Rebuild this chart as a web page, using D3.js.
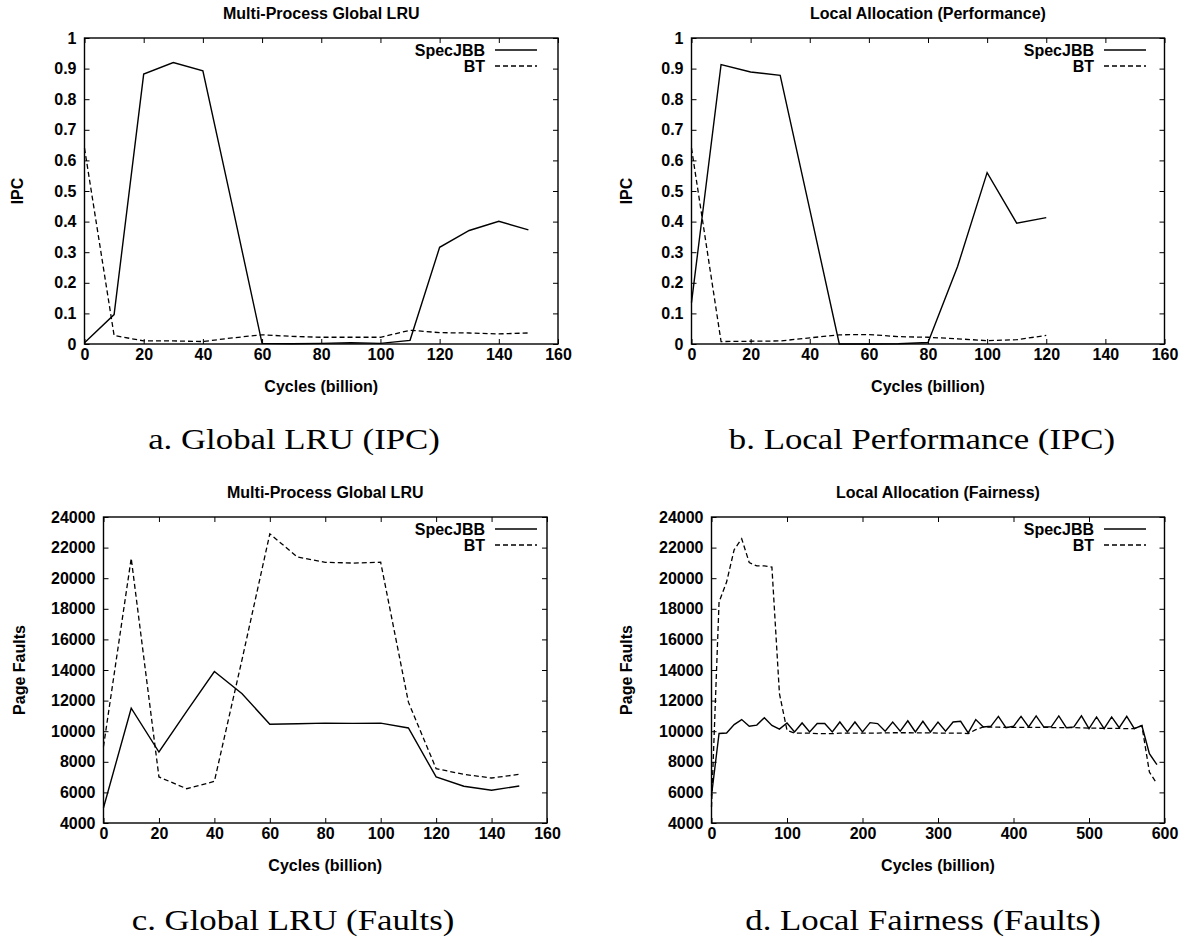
<!DOCTYPE html>
<html>
<head>
<meta charset="utf-8">
<script src="https://cdn.jsdelivr.net/npm/d3@7"></script>
<style>
  body { margin: 0; background: #fff; }
  svg { display: block; }
  .tick text { font-family: "Liberation Sans", Arial, sans-serif; font-weight: bold; font-size: 16px; fill: #000; }
  .tick line { stroke: #000; stroke-width: 1; }
  .lbl { font-family: "Liberation Sans", Arial, sans-serif; font-weight: bold; font-size: 16px; fill: #000; }
  .cap { font-family: "Liberation Serif", "Times New Roman", serif; font-size: 30px; fill: #000; }
</style>
</head>
<body>
<svg id="chart" width="1183" height="939"></svg>
<script>
// tick values
const ipcTicks = [0, 0.1, 0.2, 0.3, 0.4, 0.5, 0.6, 0.7, 0.8, 0.9, 1];
const faultTicks = [4000, 6000, 8000, 10000, 12000, 14000, 16000, 18000, 20000, 22000, 24000];
const cycleTicks160 = [0, 20, 40, 60, 80, 100, 120, 140, 160];
const cycleTicks600 = [0, 100, 200, 300, 400, 500, 600];

// a. global LRU, IPC
const cyclesA = [0, 10, 20, 30, 40, 50, 60, 70, 80, 90, 100, 110, 120, 130, 140, 150];
const specIpcGlobal = [0.004, 0.096, 0.882, 0.92, 0.893, 0.45, 0.002, 0.001, 0.002, 0.004, 0.002, 0.012, 0.316, 0.371, 0.401, 0.373];
const btIpcGlobal = [0.64, 0.028, 0.01, 0.01, 0.008, 0.02, 0.03, 0.025, 0.022, 0.022, 0.022, 0.045, 0.037, 0.036, 0.033, 0.036];

// b. local allocation (performance), IPC
const cyclesB = [0, 10, 20, 30, 40, 50, 60, 70, 80, 90, 100, 110, 120];
const specIpcLocal = [0.135, 0.913, 0.889, 0.878, 0.44, 0.0, 0.0, 0.001, 0.005, 0.253, 0.56, 0.395, 0.413];
const btIpcLocal = [0.64, 0.008, 0.009, 0.01, 0.02, 0.03, 0.031, 0.024, 0.022, 0.017, 0.011, 0.014, 0.028];

// c. global LRU, page faults
const cyclesC = [0, 10, 20, 30, 40, 50, 60, 70, 80, 90, 100, 110, 120, 130, 140, 150];
const specFaultsGlobal = [5000, 11500, 8640, 11300, 13900, 12450, 10450, 10490, 10530, 10510, 10530, 10210, 7010, 6400, 6140, 6420];
const btFaultsGlobal = [9000, 21300, 7010, 6240, 6720, 14700, 22900, 21380, 21040, 20990, 21040, 11900, 7550, 7180, 6940, 7180];

// d. local allocation (fairness), page faults
const cyclesD = [0, 10, 20, 30, 40, 50, 60, 70, 80, 90, 100, 110, 120, 130, 140, 150, 160, 170, 180, 190,
  200, 210, 220, 230, 240, 250, 260, 270, 280, 290, 300, 310, 320, 330, 340, 350, 360, 370, 380, 390,
  400, 410, 420, 430, 440, 450, 460, 470, 480, 490, 500, 510, 520, 530, 540, 550, 560, 570, 580, 590];
const specFaultsFair = [5800, 9850, 9880, 10430, 10760, 10320, 10400, 10880, 10380, 10140, 10540, 9950, 10540, 9950, 10500, 10500, 9950, 10600, 9950, 10600,
  9950, 10560, 10500, 10000, 10600, 10000, 10680, 9950, 10650, 9950, 10600, 10000, 10600, 10650, 9890, 10760, 10280, 10320, 10970, 10230,
  10320, 10970, 10280, 11000, 10280, 10280, 11000, 10230, 10280, 11000, 10170, 10930, 10170, 10930, 10230, 10970, 10170, 10370, 8530, 7810];
const btFaultsFair = [5050, 18440, 19750, 21860, 22580, 21020, 20800, 20800, 20730, 12450, 10060, 9880, 9880, 9880, 9840, 9840, 9840, 9880, 9880, 9880,
  9880, 9880, 9880, 9890, 9900, 9900, 9900, 9890, 9890, 9890, 9880, 9880, 9880, 9880, 9840, 10100, 10280, 10260, 10260, 10250,
  10250, 10250, 10250, 10250, 10250, 10240, 10240, 10230, 10230, 10220, 10200, 10200, 10180, 10180, 10180, 10170, 10170, 10370, 7330, 6570];

const panels = [
  {frame: {left: 84.5, right: 558, top: 38, bottom: 344}, xMax: 160, xTicks: cycleTicks160,
   yDomain: [0, 1], yTicks: ipcTicks, yLabel: "IPC", yLabelX: 17,
   title: "Multi-Process Global LRU", caption: "a. Global LRU (IPC)", capX: 294, capY: 449,
   x: cyclesA, spec: specIpcGlobal, bt: btIpcGlobal, legendX2: 537},
  {frame: {left: 691.5, right: 1164.5, top: 38, bottom: 344}, xMax: 160, xTicks: cycleTicks160,
   yDomain: [0, 1], yTicks: ipcTicks, yLabel: "IPC", yLabelX: 626,
   title: "Local Allocation (Performance)", caption: "b. Local Performance (IPC)", capX: 922, capY: 449,
   x: cyclesB, spec: specIpcLocal, bt: btIpcLocal, legendX2: 1146},
  {frame: {left: 103.5, right: 547, top: 517, bottom: 823}, xMax: 160, xTicks: cycleTicks160,
   yDomain: [4000, 24000], yTicks: faultTicks, yLabel: "Page Faults", yLabelX: 19,
   title: "Multi-Process Global LRU", caption: "c. Global LRU (Faults)", capX: 293, capY: 930,
   x: cyclesC, spec: specFaultsGlobal, bt: btFaultsGlobal, legendX2: 537},
  {frame: {left: 711.5, right: 1164.5, top: 517, bottom: 823}, xMax: 600, xTicks: cycleTicks600,
   yDomain: [4000, 24000], yTicks: faultTicks, yLabel: "Page Faults", yLabelX: 626,
   title: "Local Allocation (Fairness)", caption: "d. Local Fairness (Faults)", capX: 923, capY: 930,
   x: cyclesD, spec: specFaultsFair, bt: btFaultsFair, legendX2: 1146}
];

const svg = d3.select("#chart");
const tickLen = 5;

function drawPanel(p) {
  let f = p.frame;
  let g = svg.append("g");

  let xScale = d3.scaleLinear().domain([0, p.xMax]).range([f.left, f.right]);
  let yScale = d3.scaleLinear().domain(p.yDomain).range([f.bottom, f.top]);

  // axes with inward ticks, mirrored on top/right without labels
  g.append("g").attr("transform", "translate(0," + f.bottom + ")")
    .call(d3.axisBottom(xScale).tickValues(p.xTicks).tickFormat(String)
      .tickSizeInner(-tickLen).tickSizeOuter(0).tickPadding(5))
    .call(a => a.select(".domain").remove());
  g.append("g").attr("transform", "translate(0," + f.top + ")")
    .call(d3.axisTop(xScale).tickValues(p.xTicks).tickFormat("")
      .tickSizeInner(-tickLen).tickSizeOuter(0))
    .call(a => a.select(".domain").remove());
  g.append("g").attr("transform", "translate(" + f.left + ",0)")
    .call(d3.axisLeft(yScale).tickValues(p.yTicks).tickFormat(String)
      .tickSizeInner(-tickLen).tickSizeOuter(0).tickPadding(8))
    .call(a => a.select(".domain").remove());
  g.append("g").attr("transform", "translate(" + f.right + ",0)")
    .call(d3.axisRight(yScale).tickValues(p.yTicks).tickFormat("")
      .tickSizeInner(-tickLen).tickSizeOuter(0))
    .call(a => a.select(".domain").remove());

  g.append("rect")
    .attr("x", f.left).attr("y", f.top)
    .attr("width", f.right - f.left).attr("height", f.bottom - f.top)
    .attr("fill", "none").attr("stroke", "#000").attr("stroke-width", 1.4);

  let line = d3.line()
    .x((d, i) => xScale(p.x[i]))
    .y(d => yScale(d));

  g.append("path").attr("d", line(p.spec))
    .attr("fill", "none").attr("stroke", "#000").attr("stroke-width", 1.4)
    .attr("stroke-linejoin", "miter");
  g.append("path").attr("d", line(p.bt))
    .attr("fill", "none").attr("stroke", "#000").attr("stroke-width", 1.3)
    .attr("stroke-dasharray", "5,3");

  // titles and labels
  let cx = (f.left + f.right) / 2;
  g.append("text").attr("class", "lbl")
    .attr("x", cx).attr("y", f.top - 19)
    .attr("text-anchor", "middle").text(p.title);
  g.append("text").attr("class", "lbl")
    .attr("x", cx).attr("y", f.bottom + 48)
    .attr("text-anchor", "middle").text("Cycles (billion)");
  g.append("text").attr("class", "lbl")
    .attr("transform", "translate(" + (p.yLabelX + 6) + "," + ((f.top + f.bottom) / 2) + ") rotate(-90)")
    .attr("text-anchor", "middle").text(p.yLabel);

  // legend
  let names = ["SpecJBB", "BT"];
  names.forEach((name, i) => {
    let y = f.top + 12 + i * 16;
    g.append("text").attr("class", "lbl")
      .attr("x", p.legendX2 - 52).attr("y", y + 5.5)
      .attr("text-anchor", "end").text(name);
    g.append("line")
      .attr("x1", p.legendX2 - 42).attr("x2", p.legendX2)
      .attr("y1", y).attr("y2", y)
      .attr("stroke", "#000").attr("stroke-width", i == 0 ? 1.4 : 1.3)
      .attr("stroke-dasharray", i == 0 ? null : "5,3");
  });

  // caption below the chart
  svg.append("text").attr("class", "cap")
    .attr("transform", "translate(" + p.capX + "," + p.capY + ") scale(1.16,1)")
    .attr("text-anchor", "middle").text(p.caption);
}

panels.forEach(drawPanel);
</script>
</body>
</html>
